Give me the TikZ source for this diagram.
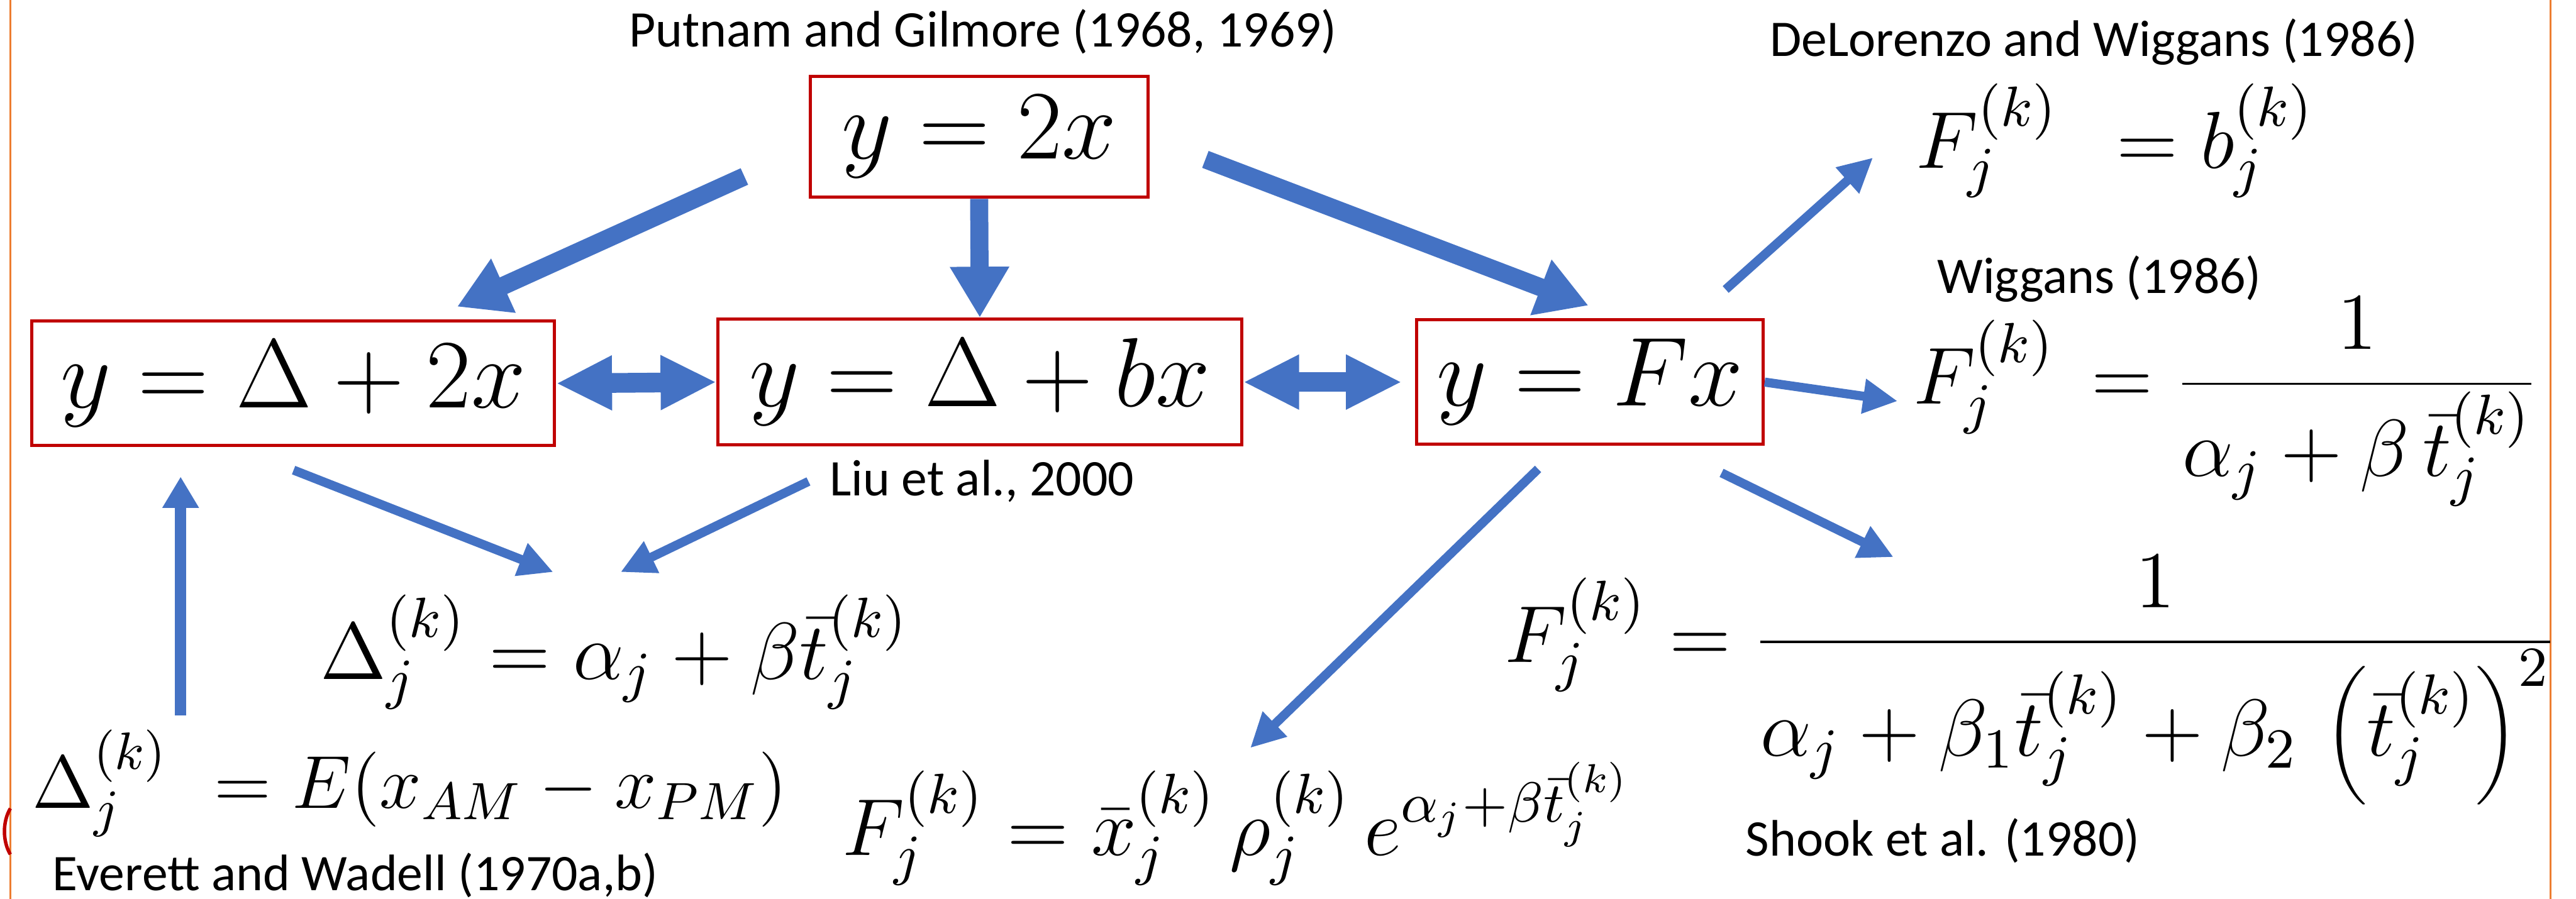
\RequirePackage{fix-cm}
\documentclass[tikz,border=0pt]{standalone}
\usepackage{fontspec}
\newfontfamily\refsans{Carlito}
\usetikzlibrary{arrows.meta}
\definecolor{arrblue}{HTML}{4472C4}
\definecolor{boxred}{HTML}{C00000}
\definecolor{edgeorange}{HTML}{ED7D31}

\begin{document}
\begin{tikzpicture}[
  eqbox/.style={draw=boxred,line width=0.55pt,minimum height=0.70cm,inner xsep=0pt,
                font=\fontsize{17}{20}\selectfont},
  formula/.style={anchor=base west,inner sep=0pt,font=\fontsize{14}{17}\selectfont},
  ref/.style={anchor=base west,inner sep=0pt,font=\refsans\fontsize{8.9}{10.5}\selectfont},
  bigarr/.style={arrblue,line width=0.11cm,-{Triangle[length=0.31cm,width=0.34cm]}},
  dblarr/.style={arrblue,line width=0.12cm,
                 {Triangle[length=0.34cm,width=0.31cm]}-{Triangle[length=0.34cm,width=0.31cm]}},
  midarr/.style={arrblue,line width=0.07cm,-{Triangle[length=0.19cm,width=0.21cm]}},
  thinarr/.style={arrblue,line width=0.055cm,-{Triangle[length=0.21cm,width=0.2cm]}},
]
\useasboundingbox (0,0) rectangle (15.68,5.4727);

% Page edges
\draw[edgeorange,line width=0.35pt] (0.063,0) -- (0.063,5.4727);
\draw[edgeorange,line width=0.35pt] (15.526,0) -- (15.526,5.4727);
\draw[boxred,line width=0.6pt] (0.063,0.55) .. controls (0.015,0.47) and (0.015,0.35) .. (0.063,0.27);

% Models
\node[eqbox,minimum width=2.056cm] (b2x) at (5.960,4.639) {$y=2x$};
\node[eqbox,minimum width=3.183cm] (bd2x) at (1.784,3.138) {$y=\Delta+2x$};
\node[eqbox,minimum width=3.187cm] (bdbx) at (5.964,3.146) {$y=\Delta+bx$};
\node[eqbox,minimum width=2.109cm] (bfx) at (9.677,3.146) {$y=Fx$};

% References
\node[ref] (putnam) at (3.822,5.187) {Putnam and Gilmore (1968, 1969)};
\node[ref] (delo) at (10.766,5.130) {DeLorenzo and Wiggans (1986)};
\node[ref] (wig) at (11.785,3.685) {Wiggans (1986)};
\node[ref] (liu) at (5.044,2.453) {Liu et al., 2000};
\node[ref] (shook) at (10.619,0.262) {Shook et al. (1980)};
\node[ref] (everett) at (0.314,0.052) {Everett and Wadell (1970a,b)};

% Formulas
\node[formula] (fdel) at (1.944,1.337) {$\Delta_j^{(k)} = \alpha_j + \beta\bar{t}_j^{(k)}$};
\node[formula,font=\fontsize{13}{16}\selectfont] (fever) at (0.192,0.551)
  {$\Delta_j^{(k)}\,\, = E(x_{AM} - x_{PM})$};
\node[formula] (fdelo) at (11.656,4.450) {$F_j^{(k)}\;\, = b_j^{(k)}$};
\node[formula] (fwig) at (11.638,3.012)
  {$\displaystyle F_j^{(k)}\, = \frac{1}{\alpha_j + \beta\,\bar{t}_j^{(k)}}$};
\node[formula] (fshook) at (9.153,1.441)
  {$\displaystyle F_j^{(k)} = \frac{1}{\alpha_j + \beta_1\bar{t}_j^{(k)} + \beta_2\,\left(\bar{t}_j^{(k)}\right)^2}$};
\node[formula] (fexp) at (5.121,0.265)
  {$F_j^{(k)} = \bar{x}_j^{(k)}\,\rho_j^{(k)}\,e^{\alpha_j+\beta\bar{t}_j^{(k)}}$};

% Arrow ends
\coordinate (a1s) at (4.531,4.398);  \coordinate (a1e) at (2.782,3.605);
\coordinate (a3s) at (7.337,4.502);  \coordinate (a3e) at (9.669,3.612);
\coordinate (a5s) at (1.787,2.610);  \coordinate (a5e) at (3.368,1.989);
\coordinate (a6s) at (4.921,2.541);  \coordinate (a6e) at (3.777,1.989);
\coordinate (a7s) at (1.0995,1.117); \coordinate (a7e) at (1.0995,2.570);
\coordinate (a8s) at (10.504,3.710); \coordinate (a8e) at (11.401,4.513);
\coordinate (a9e) at (11.551,3.030);
\coordinate (a10s) at (10.479,2.593); \coordinate (a10e) at (11.526,2.080);
\coordinate (a11s) at (9.362,2.617);  \coordinate (a11e) at (7.610,0.918);

% Arrows
\draw[bigarr] (a1s) -- (a1e);
\draw[bigarr] (b2x.south) -- (bdbx.north);
\draw[bigarr] (a3s) -- (a3e);
\draw[dblarr] (bd2x.east) -- (bdbx.west);
\draw[dblarr,shorten >=0.08cm] (bdbx.east) -- (bfx.west);
\draw[thinarr] (a5s) -- (a5e);
\draw[thinarr] (a6s) -- (a6e);
\draw[midarr] (a7s) -- (a7e);
\draw[thinarr] (a8s) -- (a8e);
\draw[thinarr] (bfx.east) -- (a9e);
\draw[thinarr] (a10s) -- (a10e);
\draw[thinarr] (a11s) -- (a11e);

\end{tikzpicture}
\end{document}
